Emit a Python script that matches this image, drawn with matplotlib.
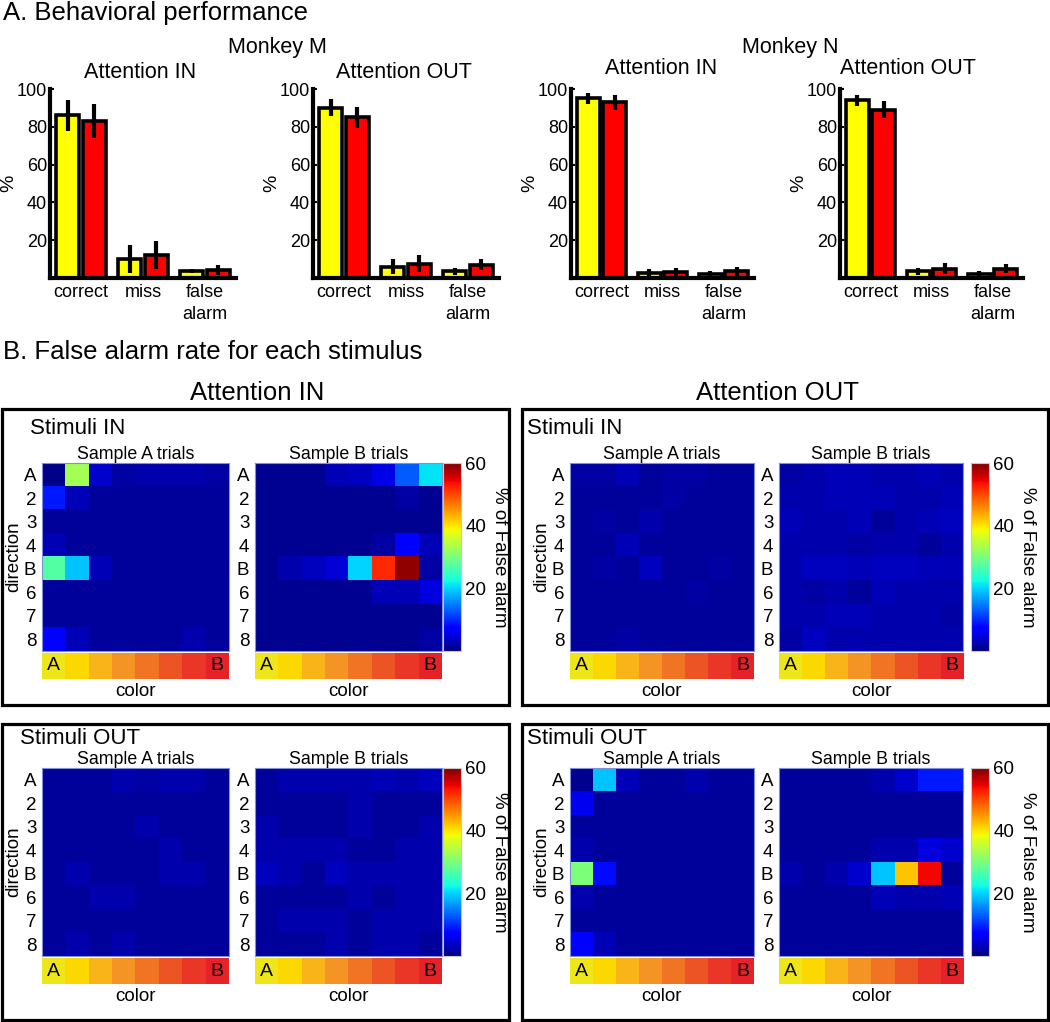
import numpy as np
import matplotlib
matplotlib.use("Agg")
import matplotlib.pyplot as plt
from matplotlib.patches import Rectangle
from matplotlib.colors import to_rgb

plt.rcParams['font.family'] = ['Liberation Sans', 'DejaVu Sans']

# ---------------- data: A. behavioral performance ----------------
outcomes = ["correct", "miss", "false\nalarm"]
monkeys = ["Monkey M", "Monkey N"]

M_in_yellow = [86, 10, 3.5]
M_in_yellow_err = [8, 7.5, 1]
M_in_red = [83, 12, 4.3]
M_in_red_err = [9, 7.5, 2.5]

M_out_yellow = [90, 6, 3.5]
M_out_yellow_err = [4.5, 4, 2]
M_out_red = [85, 7.5, 7]
M_out_red_err = [5.5, 4.5, 3]

N_in_yellow = [95, 2.5, 2]
N_in_yellow_err = [3, 2, 1.5]
N_in_red = [93, 3, 3.5]
N_in_red_err = [4, 2.5, 2.5]

N_out_yellow = [94, 3.5, 2]
N_out_yellow_err = [3, 2, 1.5]
N_out_red = [89, 5, 5]
N_out_red_err = [4.5, 3, 2.5]

# ---------------- data: B. false alarm rate (rows = direction, cols = color) ----------------
directions = ["A", "2", "3", "4", "B", "6", "7", "8"]
strip_colors = ["#eee61a", "#fad800", "#f9b41a", "#f49424", "#f07424", "#ec5426", "#e93626", "#e42228"]

attin_stimin_A = [
    [0.5, 33, 4, 2, 2.5, 2.5, 2.5, 2],
    [9, 3, 1.5, 1.5, 1.5, 1.5, 1.5, 1.5],
    [1.5, 1.5, 1.5, 1.5, 1.5, 1.5, 1.5, 1.5],
    [3, 1.5, 1.5, 1.5, 1.5, 1.5, 1.5, 1.5],
    [27, 19, 3, 1.5, 1.5, 1.5, 1.5, 1.5],
    [1.5, 1.5, 1.5, 1.5, 1.5, 1.5, 1.5, 1.5],
    [1.5, 1.5, 1.5, 1.5, 1.5, 1.5, 1.5, 1.5],
    [7, 3, 1.5, 1.5, 1.5, 1.5, 2.5, 1.5],
]
attin_stimin_B = [
    [1, 1, 1, 3, 3.5, 5.5, 13, 21],
    [1, 1, 1, 1, 1, 1, 2, 1],
    [1, 1, 1, 1, 1, 1, 1, 1],
    [1, 1, 1, 1, 1, 2, 7.5, 3],
    [1, 2.5, 3.5, 4.5, 20, 52, 59, 2],
    [1, 1, 1, 1, 1, 3, 3, 5],
    [1, 1, 1, 1, 1, 1, 1, 1],
    [1, 1, 1, 1, 1, 1, 1, 2],
]
attout_stimin_A = [
    [2, 2, 3, 1.5, 2, 2, 1.5, 1.5],
    [1.5, 1.5, 1.5, 1.5, 2, 1.5, 1.5, 1.5],
    [1.5, 2, 1.5, 2.5, 1.5, 1.5, 1.5, 1.5],
    [1.5, 1.5, 3, 1.5, 1.5, 1.5, 1.5, 1.5],
    [1.5, 2, 1.5, 3.5, 1.5, 1.5, 2, 1.5],
    [1.5, 1.5, 1.5, 1.5, 1.5, 2, 1.5, 1.5],
    [1.5, 1.5, 1.5, 1.5, 1.5, 1.5, 1.5, 1.5],
    [1.5, 1.5, 2, 1.5, 1.5, 1.5, 1.5, 1.5],
]
attout_stimin_B = [
    [2, 2.5, 3, 3, 2.5, 2.5, 3, 2.5],
    [2.5, 2.5, 3, 3, 3, 2.5, 2.5, 3],
    [3, 2.5, 2.5, 3, 1.5, 2.5, 3, 3.5],
    [2.5, 2.5, 2.5, 2, 2.5, 2.5, 1.5, 2.5],
    [2.5, 3.5, 3.5, 3, 3.5, 3.5, 3, 3],
    [2.5, 2, 2.5, 1.5, 3, 2.5, 2.5, 2.5],
    [2.5, 2.5, 3, 3, 2.5, 2.5, 2.5, 2],
    [2, 3.5, 2.5, 2.5, 2.5, 2.5, 2.5, 2.5],
]
attin_stimout_A = [
    [1.5, 1.5, 1.5, 2.5, 2, 2.5, 2.5, 1.5],
    [1.5, 1.5, 1.5, 1.5, 1.5, 1.5, 1.5, 1.5],
    [1.5, 1.5, 1.5, 1.5, 2.5, 1.5, 1.5, 1.5],
    [1.5, 1.5, 1.5, 1.5, 1.5, 2.5, 1.5, 1.5],
    [1.5, 2.5, 1.5, 1.5, 1.5, 2.5, 2.5, 1.5],
    [1.5, 1.5, 2.5, 2.5, 1.5, 1.5, 1.5, 1.5],
    [1.5, 1.5, 1.5, 1.5, 1.5, 1.5, 1.5, 1.5],
    [1.5, 2.5, 1.5, 2.5, 1.5, 1.5, 1.5, 1.5],
]
attin_stimout_B = [
    [1.5, 2.5, 2.5, 2.5, 2.5, 3, 2.5, 3.5],
    [1.5, 1.5, 1.5, 1.5, 2.5, 1.5, 1.5, 1.5],
    [2.5, 1.5, 1.5, 1.5, 2.5, 1.5, 1.5, 2.5],
    [2.5, 2.5, 2.5, 2.5, 1.5, 1.5, 2.5, 2.5],
    [3.5, 2.5, 1.5, 3.5, 2.5, 2.5, 2.5, 2.5],
    [1.5, 1.5, 1.5, 1.5, 2.5, 1.5, 2.5, 2.5],
    [1.5, 2.5, 2.5, 2.5, 1.5, 2.5, 2.5, 2.5],
    [1.5, 1.5, 1.5, 2.5, 1.5, 2.5, 2.5, 1.5],
]
attout_stimout_A = [
    [1, 19, 3, 1.5, 1.5, 2.5, 1.5, 1.5],
    [6, 1.5, 1.5, 1.5, 1.5, 1.5, 1.5, 1.5],
    [1.5, 1.5, 1.5, 1.5, 1.5, 1.5, 1.5, 1.5],
    [2.5, 1.5, 1.5, 1.5, 1.5, 1.5, 1.5, 1.5],
    [30, 8, 1.5, 1.5, 1.5, 1.5, 1.5, 1.5],
    [2.5, 1.5, 1.5, 1.5, 1.5, 1.5, 1.5, 1.5],
    [1.5, 1.5, 1.5, 1.5, 1.5, 1.5, 1.5, 1.5],
    [7, 3, 1.5, 1.5, 1.5, 1.5, 1.5, 1.5],
]
attout_stimout_B = [
    [1.5, 1.5, 1.5, 1.5, 2.5, 4, 9, 9],
    [1.5, 1.5, 1.5, 1.5, 1.5, 1.5, 1.5, 1.5],
    [1.5, 1.5, 1.5, 1.5, 1.5, 1.5, 1.5, 1.5],
    [1.5, 1.5, 1.5, 1.5, 2.5, 2.5, 5, 4],
    [2.5, 1.5, 2.5, 4, 19, 42, 54, 1.5],
    [1.5, 1.5, 1.5, 1.5, 3, 2.5, 2.5, 3],
    [1.5, 1.5, 1.5, 1.5, 1.5, 1.5, 1.5, 1.5],
    [1.5, 1.5, 1.5, 1.5, 1.5, 1.5, 1.5, 1.5],
]

W, H = 1050, 1022
fig = plt.figure(figsize=(W / 100, H / 100), dpi=100)


def px(l, t, w, h):
    return [l / W, 1 - (t + h) / H, w / W, h / H]


def ftext(x, y, s, **kw):
    kw.setdefault("va", "center")
    fig.text(x / W, 1 - y / H, s, **kw)


# ---------------- A. bar charts ----------------
ftext(3, 13, "A. Behavioral performance", fontsize=18.5, ha="left")
ftext(277, 47, monkeys[0], fontsize=15.5, ha="center")
ftext(790, 47, monkeys[1], fontsize=15.5, ha="center")

bar_panels = [
    (50, 186, 140, 73, "Attention IN", M_in_yellow, M_in_yellow_err, M_in_red, M_in_red_err),
    (313, 186, 404, 73, "Attention OUT", M_out_yellow, M_out_yellow_err, M_out_red, M_out_red_err),
    (571, 183, 661, 69, "Attention IN", N_in_yellow, N_in_yellow_err, N_in_red, N_in_red_err),
    (840, 183, 908, 69, "Attention OUT", N_out_yellow, N_out_yellow_err, N_out_red, N_out_red_err),
]
x = np.arange(1, 4)
for left, width, tx, ty, title, yv, ye, rv, re in bar_panels:
    ax = fig.add_axes(px(left, 89, width, 189))
    ekw = dict(lw=3, capsize=0, ecolor="black")
    ax.bar(x - 0.215, yv, 0.38, yerr=ye, color="#ffff00", edgecolor="black", lw=2.6, error_kw=ekw)
    ax.bar(x + 0.215, rv, 0.38, yerr=re, color="#ff0000", edgecolor="black", lw=2.6, error_kw=ekw)
    ax.set_xlim(0.5, 3.5)
    ax.set_ylim(0, 100)
    ax.set_yticks([20, 40, 60, 80, 100])
    ax.set_xticks(x)
    ax.set_xticklabels(outcomes, fontsize=13, linespacing=1.45)
    ax.tick_params(axis="x", length=0, pad=4)
    ax.tick_params(axis="y", direction="in", length=3, width=1.5, labelsize=13, pad=2)
    for s in ["top", "right"]:
        ax.spines[s].set_visible(False)
    for s in ["left", "bottom"]:
        ax.spines[s].set_linewidth(3)
    ax.set_ylabel("%", fontsize=14, labelpad=0)
    ftext(tx, ty, title, fontsize=15.5, ha="center")

# ---------------- B. heatmaps ----------------
ftext(3, 352, "B. False alarm rate for each stimulus", fontsize=18.5, ha="left")
ftext(257, 393, "Attention IN", fontsize=18.5, ha="center")
ftext(777, 393, "Attention OUT", fontsize=18.5, ha="center")

strip_rgb = np.array([[to_rgb(c) for c in strip_colors]])

boxes = [
    # box left, box top, stim title, title x, heat top, left heat x, right heat x, heat w, cbar x, data A, data B
    (2, 409, "Stimuli IN", 30, 463, 42, 255, 187, 443, attin_stimin_A, attin_stimin_B),
    (522, 409, "Stimuli IN", 527, 463, 570, 779, 184, 971, attout_stimin_A, attout_stimin_B),
    (2, 724, "Stimuli OUT", 20, 768, 42, 255, 187, 443, attin_stimout_A, attin_stimout_B),
    (522, 724, "Stimuli OUT", 527, 768, 570, 779, 184, 971, attout_stimout_A, attout_stimout_B),
]
for bl, bt, stitle, stx, ht, lx, rx, hw, cx, dA, dB in boxes:
    bw = 507 if bl < 500 else 526
    fig.add_artist(Rectangle((bl / W, 1 - (bt + 296) / H), bw / W, 296 / H,
                             transform=fig.transFigure, fill=False, lw=2.3, ec="black"))
    hh = 188
    ftext(stx, bt + 19 if stitle == "Stimuli IN" else bt + 14, stitle, fontsize=16, ha="left")
    for hx, data, stitle2 in [(lx, dA, "Sample A trials"), (rx, dB, "Sample B trials")]:
        ax = fig.add_axes(px(hx, ht, hw, hh))
        im = ax.imshow(np.array(data), cmap="jet", vmin=0, vmax=60, aspect="auto",
                       interpolation="nearest")
        ax.set_xticks([])
        ax.set_yticks(range(8))
        ax.set_yticklabels(directions, fontsize=13.5)
        ax.tick_params(axis="y", length=0, pad=4)
        for s in ax.spines.values():
            s.set_color("#7f8fd8")
            s.set_linewidth(0.8)
        ax.set_title(stitle2, fontsize=12.8, pad=3)
        if hx == lx:
            ax.set_ylabel("direction", fontsize=13.5, labelpad=1)
        sax = fig.add_axes(px(hx, ht + hh + 2, hw, 26))
        sax.imshow(strip_rgb, aspect="auto", interpolation="nearest")
        sax.set_xticks([])
        sax.set_yticks([])
        for s in sax.spines.values():
            s.set_visible(False)
        sax.text(0, 0, "A", ha="center", va="center", fontsize=14)
        sax.text(7, 0, "B", ha="center", va="center", fontsize=14)
        sax.set_xlabel("color", fontsize=13.5, labelpad=3)
    cax = fig.add_axes(px(cx, ht, 18, hh))
    cb = fig.colorbar(im, cax=cax, ticks=[20, 40, 60])
    cb.outline.set_edgecolor("#c8c8c8")
    cb.outline.set_linewidth(0.8)
    cax.tick_params(length=0, labelsize=13.5, pad=3)
    cb.set_label("% of False alarm", rotation=270, fontsize=13.5, labelpad=16)

fig.savefig("out.png", dpi=100)
